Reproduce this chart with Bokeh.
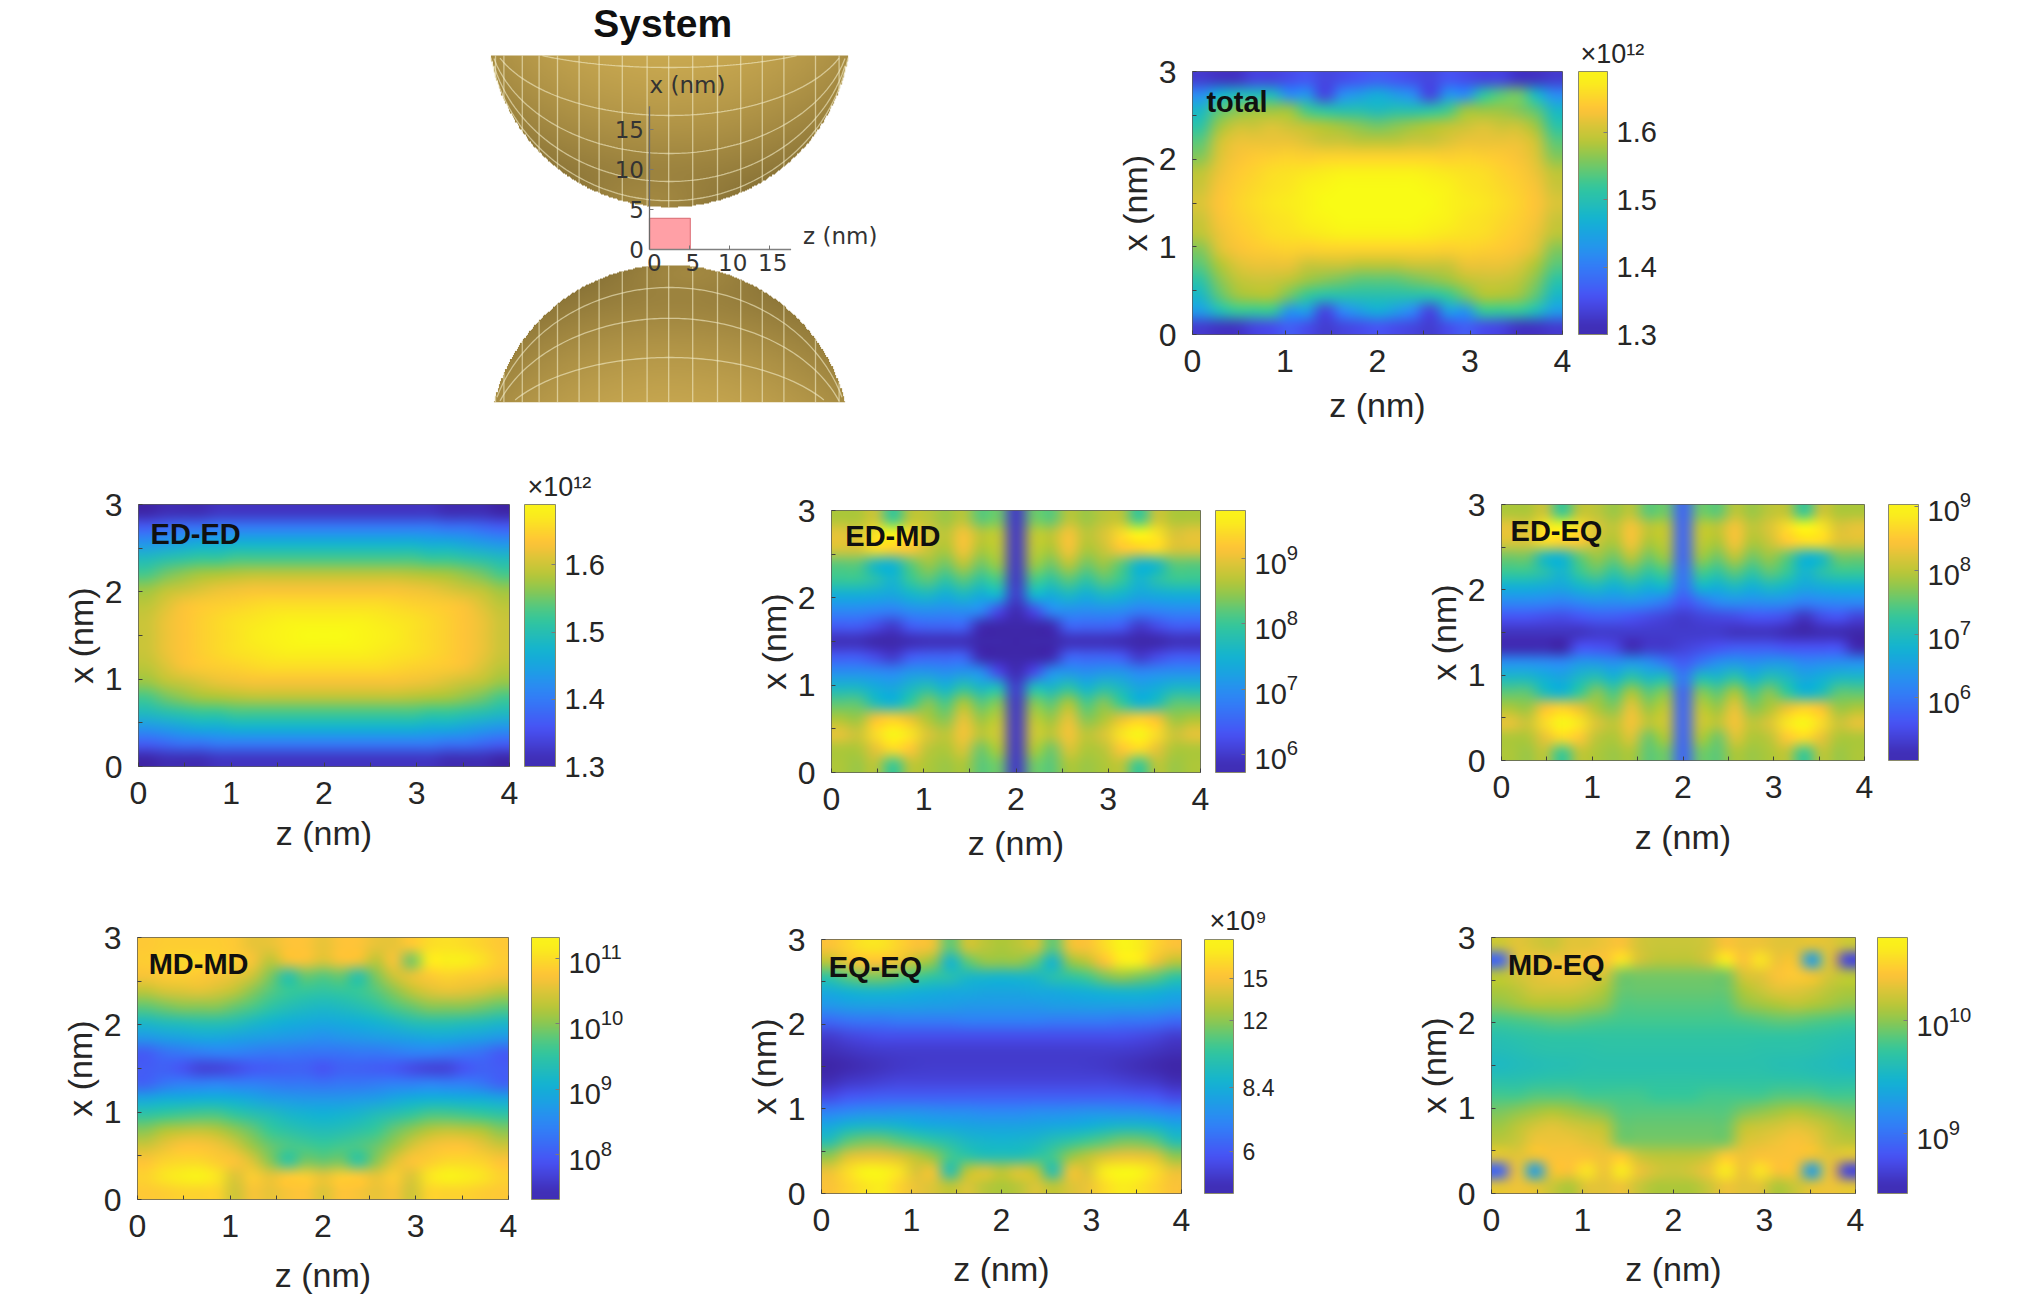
import numpy as np
from bokeh.document import Document
from bokeh.embed import file_html
from bokeh.resources import INLINE
from bokeh.plotting import figure
from bokeh.layouts import column, row
from bokeh.core.properties import value
from bokeh.models import (ColorBar, CustomJS, FixedTicker, Label, LinearColorMapper, LogColorMapper,
                          LogTickFormatter, Title)

# ---------- heat-map values (rows: x from 0 to 3, columns: z from 0 to 4) ----------
total_e12 = [
[1.33,1.32,1.32,1.34,1.35,1.37,1.35,1.33,1.34,1.35,1.36,1.35,1.34,1.33,1.35,1.37,1.35,1.34,1.32,1.32,1.33],
[1.44,1.49,1.52,1.52,1.52,1.43,1.44,1.34,1.41,1.44,1.46,1.44,1.41,1.34,1.44,1.43,1.52,1.52,1.52,1.49,1.44],
[1.48,1.54,1.57,1.58,1.58,1.55,1.52,1.50,1.50,1.50,1.50,1.50,1.50,1.50,1.52,1.55,1.58,1.58,1.57,1.54,1.48],
[1.51,1.56,1.59,1.60,1.60,1.59,1.57,1.56,1.55,1.54,1.54,1.54,1.55,1.56,1.57,1.59,1.60,1.60,1.59,1.56,1.51],
[1.54,1.58,1.61,1.62,1.62,1.62,1.60,1.60,1.60,1.59,1.59,1.59,1.60,1.60,1.60,1.62,1.62,1.62,1.61,1.58,1.54],
[1.56,1.61,1.63,1.64,1.645,1.65,1.645,1.65,1.65,1.65,1.65,1.65,1.65,1.65,1.645,1.65,1.645,1.64,1.63,1.61,1.56],
[1.59,1.62,1.64,1.65,1.66,1.665,1.67,1.675,1.68,1.68,1.68,1.68,1.68,1.675,1.67,1.665,1.66,1.65,1.64,1.62,1.59],
[1.60,1.63,1.645,1.655,1.665,1.67,1.68,1.685,1.69,1.69,1.69,1.69,1.69,1.685,1.68,1.67,1.665,1.655,1.645,1.63,1.60],
[1.61,1.635,1.65,1.66,1.67,1.675,1.68,1.69,1.69,1.69,1.69,1.69,1.69,1.69,1.68,1.675,1.67,1.66,1.65,1.635,1.61],
[1.60,1.63,1.645,1.655,1.665,1.67,1.68,1.685,1.69,1.69,1.69,1.69,1.69,1.685,1.68,1.67,1.665,1.655,1.645,1.63,1.60],
[1.59,1.62,1.64,1.65,1.66,1.665,1.67,1.675,1.68,1.68,1.68,1.68,1.68,1.675,1.67,1.665,1.66,1.65,1.64,1.62,1.59],
[1.56,1.61,1.63,1.64,1.645,1.65,1.645,1.65,1.65,1.65,1.65,1.65,1.65,1.65,1.645,1.65,1.645,1.64,1.63,1.61,1.56],
[1.54,1.60,1.62,1.62,1.62,1.62,1.61,1.60,1.60,1.59,1.59,1.59,1.60,1.60,1.61,1.62,1.62,1.62,1.62,1.60,1.54],
[1.51,1.57,1.60,1.60,1.61,1.60,1.59,1.58,1.57,1.56,1.55,1.56,1.57,1.58,1.59,1.60,1.61,1.60,1.60,1.57,1.51],
[1.48,1.54,1.56,1.57,1.57,1.57,1.53,1.51,1.50,1.50,1.49,1.50,1.50,1.51,1.53,1.57,1.57,1.57,1.56,1.54,1.48],
[1.42,1.47,1.49,1.49,1.49,1.42,1.43,1.34,1.42,1.44,1.46,1.44,1.42,1.34,1.43,1.42,1.51,1.54,1.55,1.48,1.42],
[1.33,1.32,1.32,1.34,1.34,1.35,1.36,1.34,1.35,1.36,1.37,1.36,1.35,1.34,1.36,1.35,1.34,1.34,1.32,1.32,1.33],
]
ed_ed_e12 = [
[1.30,1.31,1.31,1.31,1.32,1.32,1.32,1.32,1.32,1.32,1.32,1.32,1.32,1.32,1.32,1.32,1.32,1.31,1.31,1.31,1.30],
[1.37,1.38,1.39,1.39,1.40,1.40,1.40,1.40,1.40,1.40,1.40,1.40,1.40,1.40,1.40,1.40,1.40,1.39,1.39,1.38,1.37],
[1.43,1.44,1.45,1.46,1.46,1.47,1.47,1.47,1.47,1.47,1.47,1.47,1.47,1.47,1.47,1.47,1.46,1.46,1.45,1.44,1.43],
[1.49,1.50,1.51,1.52,1.52,1.53,1.53,1.53,1.53,1.53,1.53,1.53,1.53,1.53,1.53,1.53,1.52,1.52,1.51,1.50,1.49],
[1.53,1.55,1.565,1.575,1.58,1.585,1.59,1.59,1.59,1.59,1.59,1.59,1.59,1.59,1.59,1.585,1.58,1.575,1.565,1.55,1.53],
[1.57,1.59,1.60,1.61,1.62,1.625,1.63,1.63,1.63,1.63,1.63,1.63,1.63,1.63,1.63,1.625,1.62,1.61,1.60,1.59,1.57],
[1.59,1.61,1.63,1.64,1.645,1.65,1.655,1.66,1.66,1.66,1.66,1.66,1.66,1.66,1.655,1.65,1.645,1.64,1.63,1.61,1.59],
[1.60,1.62,1.635,1.645,1.655,1.665,1.67,1.675,1.68,1.68,1.68,1.68,1.68,1.675,1.67,1.665,1.655,1.645,1.635,1.62,1.60],
[1.60,1.62,1.635,1.645,1.655,1.665,1.675,1.68,1.685,1.69,1.69,1.69,1.685,1.68,1.675,1.665,1.655,1.645,1.635,1.62,1.60],
[1.60,1.62,1.635,1.645,1.655,1.665,1.67,1.675,1.68,1.68,1.68,1.68,1.68,1.675,1.67,1.665,1.655,1.645,1.635,1.62,1.60],
[1.59,1.61,1.63,1.64,1.645,1.65,1.655,1.66,1.66,1.66,1.66,1.66,1.66,1.66,1.655,1.65,1.645,1.64,1.63,1.61,1.59],
[1.57,1.59,1.60,1.61,1.62,1.625,1.63,1.63,1.63,1.63,1.63,1.63,1.63,1.63,1.63,1.625,1.62,1.61,1.60,1.59,1.57],
[1.53,1.55,1.565,1.575,1.58,1.585,1.59,1.59,1.59,1.59,1.59,1.59,1.59,1.59,1.59,1.585,1.58,1.575,1.565,1.55,1.53],
[1.49,1.50,1.51,1.52,1.52,1.53,1.53,1.53,1.53,1.53,1.53,1.53,1.53,1.53,1.53,1.53,1.52,1.52,1.51,1.50,1.49],
[1.43,1.44,1.45,1.46,1.46,1.47,1.47,1.47,1.47,1.47,1.47,1.47,1.47,1.47,1.47,1.47,1.46,1.46,1.45,1.44,1.43],
[1.37,1.38,1.39,1.39,1.40,1.40,1.40,1.40,1.40,1.40,1.40,1.40,1.40,1.40,1.40,1.40,1.40,1.39,1.39,1.38,1.37],
[1.30,1.31,1.31,1.31,1.32,1.32,1.32,1.32,1.32,1.32,1.32,1.32,1.32,1.32,1.32,1.32,1.32,1.31,1.31,1.31,1.30],
]
ed_md_log = [
[8.6,8.5,8.7,8.0,8.7,8.6,8.5,8.6,8.2,8.3,5.95,8.3,8.2,8.6,8.5,8.6,8.7,8.0,8.7,8.5,8.6],
[8.6,8.6,9.0,9.4,9.2,8.7,8.6,8.9,8.3,8.6,5.95,8.6,8.3,8.9,8.6,8.7,9.2,9.4,9.0,8.6,8.6],
[9.0,8.8,9.4,9.7,9.5,8.9,8.7,9.1,8.7,8.8,5.95,8.8,8.7,9.1,8.7,8.9,9.5,9.7,9.4,8.8,9.0],
[8.6,8.5,9.1,9.3,9.0,8.6,8.4,9.0,8.5,8.7,5.95,8.7,8.5,9.0,8.4,8.6,9.0,9.3,9.1,8.5,8.6],
[8.2,8.2,7.7,7.5,8.0,8.4,8.1,8.6,8.2,8.4,5.95,8.4,8.2,8.6,8.1,8.4,8.0,7.5,7.7,8.2,8.2],
[7.6,7.6,7.4,7.3,7.6,7.8,7.5,7.9,7.6,7.7,6.0,7.7,7.6,7.9,7.5,7.8,7.6,7.3,7.4,7.6,7.6],
[7.0,7.0,6.95,6.9,7.1,7.1,7.0,7.1,7.0,6.2,5.8,6.2,7.0,7.1,7.0,7.1,7.1,6.9,6.95,7.0,7.0],
[6.4,6.4,6.2,6.0,6.4,6.5,6.5,6.5,5.8,5.75,5.75,5.75,5.8,6.5,6.5,6.5,6.4,6.0,6.2,6.4,6.4],
[5.85,5.85,5.75,5.75,5.8,5.85,5.85,5.85,5.75,5.75,5.72,5.75,5.75,5.85,5.85,5.85,5.8,5.75,5.75,5.85,5.85],
[6.4,6.4,6.2,6.0,6.4,6.5,6.5,6.5,5.8,5.75,5.75,5.75,5.8,6.5,6.5,6.5,6.4,6.0,6.2,6.4,6.4],
[6.9,6.9,6.85,6.8,6.95,7.0,6.95,7.0,6.9,6.2,5.8,6.2,6.9,7.0,6.95,7.0,6.95,6.8,6.85,6.9,6.9],
[7.4,7.4,7.35,7.3,7.5,7.6,7.4,7.6,7.4,7.5,6.0,7.5,7.4,7.6,7.4,7.6,7.5,7.3,7.35,7.4,7.4],
[8.0,8.0,7.8,7.5,8.0,8.2,7.9,8.2,7.9,8.1,5.95,8.1,7.9,8.2,7.9,8.2,8.0,7.5,7.8,8.0,8.0],
[8.2,8.2,7.6,7.5,8.2,8.5,8.3,8.7,8.3,8.5,5.95,8.5,8.3,8.7,8.3,8.5,8.2,7.5,7.6,8.2,8.2],
[8.9,8.9,9.4,9.3,9.2,8.8,8.6,9.1,8.6,8.7,5.95,8.7,8.6,9.1,8.6,8.8,9.2,9.3,9.4,8.9,8.9],
[9.0,8.9,9.5,9.7,9.4,8.9,8.7,9.1,8.7,8.7,5.95,8.7,8.7,9.1,8.7,8.9,9.4,9.7,9.5,8.9,9.0],
[8.6,8.6,8.8,8.0,8.7,8.7,8.5,8.7,8.2,8.3,5.95,8.3,8.2,8.7,8.5,8.7,8.7,8.0,8.8,8.6,8.6],
]
ed_eq_log = [
[7.9,7.8,8.0,7.3,8.0,7.9,7.8,7.9,7.5,7.6,5.8,7.6,7.5,7.9,7.8,7.9,8.0,7.3,8.0,7.8,7.9],
[7.9,7.9,8.3,8.7,8.5,8.0,7.9,8.2,7.6,7.9,5.8,7.9,7.6,8.2,7.9,8.0,8.5,8.7,8.3,7.9,7.9],
[8.3,8.1,8.7,9.0,8.8,8.2,8.0,8.4,8.0,8.1,5.8,8.1,8.0,8.4,8.0,8.2,8.8,9.0,8.7,8.1,8.3],
[7.9,7.8,8.4,8.6,8.3,7.9,7.7,8.3,7.8,8.0,5.8,8.0,7.8,8.3,7.7,7.9,8.3,8.6,8.4,7.8,7.9],
[7.5,7.5,7.0,6.8,7.3,7.7,7.4,7.9,7.5,7.7,5.8,7.7,7.5,7.9,7.4,7.7,7.3,6.8,7.0,7.5,7.5],
[6.9,6.9,6.7,6.6,6.9,7.1,6.8,7.2,6.9,7.0,6.0,7.0,6.9,7.2,6.8,7.1,6.9,6.6,6.7,6.9,6.9],
[6.3,6.3,6.25,6.2,6.4,6.4,6.3,6.4,6.3,6.0,5.7,6.0,6.3,6.4,6.3,6.4,6.4,6.2,6.25,6.3,6.3],
[5.1,5.1,5.1,5.0,5.6,5.6,5.5,5.1,5.3,5.3,5.4,5.5,5.6,5.7,5.7,5.7,5.6,5.6,5.6,5.6,5.1],
[5.2,5.2,5.2,5.2,5.2,5.3,5.3,5.3,5.3,5.3,5.3,5.3,5.3,5.2,5.2,5.2,5.1,5.05,5.1,5.1,5.05],
[5.6,5.6,5.55,5.5,5.6,5.7,5.7,5.6,5.5,5.4,5.3,5.4,5.45,5.5,5.6,5.6,5.5,5.2,5.5,5.6,5.4],
[6.2,6.2,6.15,6.1,6.2,6.3,6.25,6.3,6.2,6.0,5.6,5.9,6.2,6.3,6.25,6.3,6.25,6.1,6.15,6.2,6.2],
[6.7,6.7,6.65,6.6,6.8,6.9,6.7,6.9,6.7,6.8,5.9,6.8,6.7,6.9,6.7,6.9,6.8,6.6,6.65,6.7,6.7],
[7.3,7.3,7.1,6.8,7.3,7.5,7.2,7.5,7.2,7.4,5.9,7.4,7.2,7.5,7.2,7.5,7.3,6.8,7.1,7.3,7.3],
[7.6,7.6,6.9,6.8,7.5,7.8,7.6,8.0,7.6,7.8,5.8,7.8,7.6,8.0,7.6,7.8,7.5,6.8,6.9,7.6,7.6],
[8.2,8.2,8.7,8.6,8.5,8.1,7.9,8.4,7.9,8.0,5.8,8.0,7.9,8.4,7.9,8.1,8.5,8.7,8.7,8.2,8.2],
[8.3,8.2,8.8,9.0,8.7,8.2,8.0,8.4,8.0,8.0,5.8,8.0,8.0,8.4,8.0,8.2,8.7,9.0,8.8,8.2,8.3],
[7.9,7.9,8.1,7.3,8.0,8.0,7.8,8.0,7.5,7.6,5.8,7.6,7.5,8.0,7.8,8.0,8.0,7.3,8.1,7.9,7.9],
]
md_md_log = [
[10.8,10.85,10.9,10.9,10.9,10.4,10.7,10.6,10.7,10.75,10.5,10.75,10.7,10.6,10.7,10.4,10.9,10.9,10.9,10.85,10.8],
[10.9,11.1,11.2,11.25,11.1,10.5,10.85,10.6,10.8,10.85,10.6,10.85,10.8,10.6,10.85,10.5,11.1,11.25,11.2,11.1,10.9],
[10.75,10.9,10.95,10.95,10.85,10.75,10.5,10.0,9.5,9.9,9.85,9.9,9.5,10.0,10.5,10.75,10.85,10.95,10.95,10.9,10.75],
[10.4,10.6,10.75,10.75,10.65,10.45,10.1,9.85,9.7,9.65,9.6,9.65,9.7,9.85,10.1,10.45,10.65,10.75,10.75,10.6,10.4],
[10.0,10.2,10.3,10.35,10.25,10.05,9.85,9.6,9.45,9.35,9.3,9.35,9.45,9.6,9.85,10.05,10.25,10.35,10.3,10.2,10.0],
[9.5,9.6,9.65,9.7,9.7,9.55,9.4,9.3,9.15,9.1,9.05,9.1,9.15,9.3,9.4,9.55,9.7,9.7,9.65,9.6,9.5],
[8.9,9.0,9.0,9.05,9.05,9.0,8.9,8.8,8.75,8.7,8.7,8.7,8.75,8.8,8.9,9.0,9.05,9.05,9.0,9.0,8.9],
[8.1,8.3,8.4,8.4,8.45,8.4,8.4,8.35,8.3,8.3,8.25,8.3,8.3,8.35,8.4,8.4,8.45,8.4,8.4,8.3,8.1],
[8.0,8.05,7.9,7.7,7.7,7.8,7.95,8.0,8.05,8.05,7.9,8.05,8.05,8.0,7.95,7.8,7.7,7.7,7.9,8.05,8.0],
[8.0,8.2,8.3,8.35,8.4,8.4,8.35,8.3,8.3,8.25,8.25,8.25,8.3,8.3,8.35,8.4,8.4,8.35,8.3,8.2,8.0],
[8.7,8.8,8.85,8.9,8.9,8.85,8.8,8.75,8.7,8.65,8.6,8.65,8.7,8.75,8.8,8.85,8.9,8.9,8.85,8.8,8.7],
[9.2,9.3,9.35,9.4,9.4,9.35,9.2,9.1,9.0,8.95,8.9,8.95,9.0,9.1,9.2,9.35,9.4,9.4,9.35,9.3,9.2],
[9.8,9.9,10.0,10.0,10.0,9.85,9.7,9.5,9.35,9.25,9.2,9.25,9.35,9.5,9.7,9.85,10.0,10.0,10.0,9.9,9.8],
[10.3,10.45,10.5,10.55,10.45,10.3,10.0,9.75,9.6,9.55,9.5,9.55,9.6,9.75,10.0,10.3,10.5,10.6,10.55,10.45,10.3],
[10.7,10.8,10.85,10.8,10.7,10.6,10.4,9.95,9.4,9.85,9.75,9.85,9.4,9.95,10.4,10.6,10.8,10.9,10.85,10.8,10.7],
[10.85,10.9,10.95,10.95,10.9,10.85,10.7,10.3,10.65,10.7,10.5,10.7,10.65,10.3,10.7,9.9,11.15,11.2,11.2,11.05,10.85],
[10.8,10.85,10.85,10.85,10.85,10.8,10.6,10.6,10.75,10.75,10.6,10.75,10.75,10.6,10.6,10.8,11.0,11.05,11.0,10.9,10.8],
]
eq_eq_e9 = [
[15,16,17,17.5,16,14.5,14,13,14,13,12.5,13,14,13,14,14.5,16.5,17.5,17,16,15],
[14.5,16.5,18,18,17,14,14.5,9.5,13,14,13,14,13,9.5,14.5,14,17.5,18.3,18,16.5,14.5],
[12,14,14.5,14.5,14,13,12,10.5,10,9.5,9.5,9.5,10,10.5,12,13,14,14.5,14.5,14,12],
[9.5,11,11.5,11.5,11,10.5,10,9.5,9,8.8,8.7,8.8,9,9.5,10,10.5,11,11.5,11.5,11,9.5],
[8.2,8.8,9,9,8.8,8.5,8.3,8.2,8.1,8.0,8.0,8.0,8.1,8.2,8.3,8.5,8.8,9,9,8.8,8.2],
[6.9,7.1,7.3,7.3,7.4,7.4,7.3,7.2,7.2,7.1,7.1,7.1,7.2,7.2,7.3,7.4,7.4,7.3,7.3,7.1,6.9],
[5.6,5.9,6.0,6.1,6.1,6.1,6.1,6.1,6.1,6.1,6.1,6.1,6.1,6.1,6.1,6.1,6.1,6.1,6.0,5.9,5.6],
[5.0,5.2,5.3,5.4,5.5,5.5,5.5,5.5,5.5,5.5,5.5,5.5,5.5,5.5,5.5,5.5,5.5,5.4,5.3,5.2,5.0],
[4.8,4.9,5.0,5.1,5.2,5.25,5.3,5.3,5.3,5.3,5.3,5.3,5.3,5.3,5.3,5.25,5.2,5.1,5.0,4.9,4.8],
[5.0,5.1,5.2,5.25,5.3,5.3,5.3,5.3,5.3,5.3,5.3,5.3,5.3,5.3,5.3,5.3,5.3,5.25,5.2,5.1,5.0],
[5.3,5.5,5.6,5.7,5.7,5.7,5.7,5.7,5.7,5.7,5.7,5.7,5.7,5.7,5.7,5.7,5.7,5.7,5.6,5.5,5.3],
[6.3,6.5,6.6,6.6,6.7,6.7,6.7,6.7,6.8,6.8,6.8,6.8,6.8,6.7,6.7,6.7,6.7,6.6,6.6,6.5,6.3],
[7.5,7.7,7.8,7.8,7.8,7.8,7.7,7.7,7.6,7.6,7.6,7.6,7.6,7.7,7.7,7.8,7.8,7.8,7.8,7.7,7.5],
[8.3,8.6,8.8,8.8,8.7,8.5,8.4,8.2,8.2,8.1,8.1,8.1,8.2,8.2,8.4,8.5,8.7,8.8,8.8,8.6,8.3],
[10,11,11.5,11.5,11,10.5,10,9.6,9,8.9,8.8,8.9,9,9.6,10,10.5,11.5,12,11.5,11,10],
[13,14.5,15,15,14.5,13,12,8.7,11,12,12,12,11,8.7,12,13,15,17.5,17.5,14.5,13],
[15,16,17,17,16,15,14.5,11,13.5,13,12.5,13,13.5,11,14.5,15,16.5,18,17.5,16,15],
]
md_eq_log = [
[10.3,10.35,10.3,10.2,10.1,10.3,10.3,10.35,10.2,10.1,10.1,10.1,10.2,10.35,10.3,10.3,10.1,10.2,10.3,10.35,10.3],
[8.9,10.35,9.3,10.35,10.4,10.6,10.35,10.65,10.35,10.25,10.2,10.25,10.35,10.65,10.35,10.6,10.4,10.35,9.3,10.35,8.7],
[10.3,10.3,10.35,10.4,10.4,10.4,10.35,10.45,10.2,10.15,10.15,10.15,10.2,10.45,10.35,10.4,10.4,10.4,10.35,10.3,10.3],
[10.15,10.2,10.35,10.35,10.35,10.3,10.25,9.95,9.95,9.95,9.95,9.95,9.95,9.95,10.25,10.3,10.35,10.4,10.35,10.2,10.15],
[10.05,10.15,10.25,10.3,10.25,10.2,10.15,9.9,9.9,9.9,9.9,9.9,9.9,9.9,10.15,10.2,10.25,10.3,10.25,10.15,10.05],
[9.95,10.0,10.05,10.1,10.05,10.0,9.95,9.85,9.85,9.85,9.85,9.85,9.85,9.85,9.95,10.0,10.05,10.1,10.05,10.0,9.95],
[9.8,9.8,9.85,9.85,9.85,9.8,9.8,9.8,9.8,9.75,9.75,9.75,9.8,9.8,9.8,9.8,9.85,9.85,9.85,9.8,9.8],
[9.65,9.65,9.68,9.7,9.7,9.7,9.7,9.7,9.7,9.7,9.7,9.7,9.7,9.7,9.7,9.7,9.7,9.7,9.68,9.65,9.65],
[9.55,9.58,9.6,9.62,9.63,9.65,9.65,9.65,9.65,9.65,9.65,9.65,9.65,9.65,9.65,9.65,9.63,9.62,9.6,9.58,9.55],
[9.6,9.62,9.65,9.66,9.66,9.66,9.68,9.68,9.68,9.68,9.68,9.68,9.68,9.68,9.68,9.66,9.66,9.66,9.65,9.62,9.6],
[9.65,9.68,9.7,9.72,9.72,9.72,9.72,9.72,9.72,9.72,9.72,9.72,9.72,9.72,9.72,9.72,9.72,9.72,9.7,9.68,9.65],
[9.8,9.82,9.85,9.88,9.88,9.85,9.82,9.8,9.8,9.8,9.8,9.8,9.8,9.8,9.82,9.85,9.88,9.88,9.85,9.82,9.8],
[10.0,10.05,10.1,10.1,10.1,10.05,10.0,9.85,9.85,9.85,9.85,9.85,9.85,9.85,10.0,10.05,10.1,10.15,10.1,10.05,10.0],
[10.1,10.15,10.25,10.25,10.25,10.2,10.1,9.9,9.9,9.9,9.9,9.9,9.9,9.9,10.1,10.2,10.3,10.3,10.25,10.15,10.1],
[10.15,10.25,10.3,10.35,10.35,10.3,10.25,9.95,9.95,9.95,9.95,9.95,9.95,9.95,10.25,10.3,10.4,10.45,10.35,10.25,10.15],
[8.9,10.3,10.35,10.35,10.35,10.4,10.4,10.6,10.25,10.15,10.15,10.15,10.25,10.65,10.4,10.6,10.35,10.35,9.3,10.3,8.7],
[10.2,10.3,10.25,10.2,10.3,10.3,10.35,10.4,10.25,10.2,10.2,10.2,10.25,10.4,10.35,10.35,10.3,10.3,10.3,10.3,10.2],
]

# ---------- colour scale anchors (parula-like) ----------
parula_anchors = [(0.2422,0.1504,0.6603),(0.2810,0.3228,0.9579),(0.1786,0.5289,0.9682),(0.0689,0.6948,0.8394),
                  (0.2161,0.7843,0.5923),(0.6720,0.7793,0.2227),(0.9970,0.7659,0.2199),(0.9769,0.9839,0.0805)]
_a = np.array(parula_anchors)
_t = np.linspace(0, 1, len(parula_anchors))
parula = ["#%02x%02x%02x" % tuple(int(round(255*np.interp(v, _t, _a[:, c]))) for c in range(3))
          for v in np.linspace(0, 1, 256)]

FONT = "Liberation Sans"
INK = "#262626"
z_ticks = [0, 0.5, 1, 1.5, 2, 2.5, 3, 3.5, 4]
x_ticks = [0, 0.5, 1, 1.5, 2, 2.5, 3]
MB_L, MB_R, MB_T, MB_B = 100, 150, 50, 95


def panel(name, values, low, high, scale, cb_ticks, cb_labels, frame, cb_left, cb_right,
          label_x, label_top, title=None, title_dx=18, title_dy=6, cb_font="29px", xlabel_extra=0):
    L, R, T, B = frame
    p = figure(width=R-L+MB_L+MB_R, height=B-T+MB_T+MB_B+xlabel_extra, x_range=(0, 4), y_range=(0, 3),
               min_border_left=MB_L, min_border_right=MB_R, min_border_top=MB_T, min_border_bottom=MB_B+xlabel_extra,
               toolbar_location=None, output_backend="svg", tools="", frame_align=False)
    p.grid.visible = False
    p.outline_line_color = "#5a5a5a"
    p.outline_line_width = 1
    arr = np.array(values, dtype=float)
    if scale == "log":
        mapper = LogColorMapper(palette=parula, low=low, high=high)
    else:
        mapper = LinearColorMapper(palette=parula, low=low, high=high)
    p.image(image=[arr], x=0, y=0, dw=4, dh=3, color_mapper=mapper)
    for ax, ticks, lab in ((p.xaxis[0], z_ticks, "z (nm)"), (p.yaxis[0], x_ticks, "x (nm)")):
        ax.ticker = FixedTicker(ticks=ticks)
        ax.major_label_overrides = {t: (str(int(t)) if t == int(t) else "") for t in ticks}
        ax.axis_label = lab
        ax.axis_label_text_font = FONT
        ax.axis_label_text_font_style = "normal"
        ax.axis_label_text_font_size = "34px"
        ax.axis_label_text_color = INK
        ax.major_label_text_font = FONT
        ax.major_label_text_font_size = "32px"
        ax.major_label_text_color = INK
        ax.axis_line_color = None
        ax.major_tick_line_color = "#404040"
        ax.major_tick_in = 4
        ax.major_tick_out = 0
        ax.minor_tick_line_color = None
    p.xaxis[0].major_label_standoff = 15
    p.xaxis[0].axis_label_standoff = 11 + xlabel_extra
    p.yaxis[0].major_label_standoff = 16
    p.yaxis[0].axis_label_standoff = 2
    p.yaxis[0].major_label_orientation = "horizontal"
    if scale == "log" and cb_labels is None:
        cb_fmt = {"formatter": LogTickFormatter()}
    else:
        cb_fmt = {"major_label_overrides": dict(zip(cb_ticks, cb_labels))}
    cb = ColorBar(color_mapper=mapper, ticker=FixedTicker(ticks=cb_ticks), width=cb_right-cb_left, height=B-T,
                  location=(cb_left-L, 0), margin=0, padding=0, background_fill_color=None,
                  major_label_text_font=FONT, major_label_text_font_size=cb_font,
                  major_label_text_color=INK, label_standoff=9,
                  major_tick_line_color="#7a7a7a", major_tick_in=4, major_tick_out=0,
                  minor_tick_line_color=None, bar_line_color="#8a8a6a", **cb_fmt)
    p.add_layout(cb)
    p.add_layout(Label(x=label_x, y=3, y_offset=-label_top, text=name, text_font=FONT, text_font_style="bold",
                       text_font_size="29px", text_color="#101010", text_baseline="middle"))
    if title:
        p.add_layout(Title(text=title, align="left", offset=R-L+title_dx, standoff=title_dy, text_font=FONT,
                           text_font_style="normal", text_font_size="27px", text_color=INK), "above")
    return p


# ---------- schematic values (nm) ----------
gap_top_apex = 5.25
gap_bottom_apex = -2.0
sphere_radius = 22.7
sphere_centre_z = 2.5
top_cut = 24.25
bottom_cut = -19.1
top_parallels = [22.75, 16.75, 12.0, 8.5, 6.1]
bottom_parallels = [-4.75, -8.6, -13.5]
meridians = [-19.25, -18.2, -15.9, -13.8, -11.5, -8.8, -6.3, -3.4, -0.3, 2.4, 5.4, 8.5, 11.4, 14.1, 16.8, 20.75, 23.7]
sys_ticks = [5, 10, 15]
region_z = [0, 5.1]
region_x = [0, 3.9]


def system_panel():
    x0, y0, w, h = 488, 8, 410, 410
    xr = (-21.125, 30.125)
    yr = (-20.125, 31.125)
    p = figure(width=w, height=h, x_range=xr, y_range=yr, min_border=0, toolbar_location=None,
               output_backend="svg", tools="", x_axis_location=None, y_axis_location=None, frame_align=False)
    p.grid.visible = False
    p.outline_line_color = None
    for apex, cut, sign in ((gap_top_apex, top_cut, 1), (gap_bottom_apex, bottom_cut, -1)):
        cy = apex + sign*sphere_radius
        zs = np.linspace(sphere_centre_z-sphere_radius-1, sphere_centre_z+sphere_radius+1, 300)
        ys = np.linspace(min(apex, cut)-0.5, max(apex, cut), 260)
        Z, Y = np.meshgrid(zs, ys)
        dz = (Z-sphere_centre_z)/sphere_radius
        dy = (Y-cy)/sphere_radius
        r2 = dz**2+dy**2
        inside = (r2 <= 1) & ((Y <= cut) if sign > 0 else (Y >= cut))
        depth = np.clip(np.abs(dy), 0, 1)
        light = 1.0 - 0.36*depth**1.6 - 0.16*np.abs(dz)**2
        light += 0.14*np.exp(-((dz+0.15*sign)**2/0.18 + (1-depth)**2/0.02))
        img = np.zeros(Z.shape, dtype=np.uint32)
        view = img.view(dtype=np.uint8).reshape(Z.shape+(4,))
        view[..., 0] = np.clip(205*light, 0, 255)
        view[..., 1] = np.clip(172*light, 0, 255)
        view[..., 2] = np.clip(82*light, 0, 255)
        view[..., 3] = np.where(inside, 255, 0)
        p.image_rgba(image=[img], x=zs[0], y=ys[0], dw=zs[-1]-zs[0], dh=ys[-1]-ys[0])
        for m in meridians:
            half = np.sqrt(max(sphere_radius**2-(m-sphere_centre_z)**2, 0))
            end = cy - sign*half
            p.line([m, m], [end, cut], line_color="#f4ecc8", line_width=1.3, line_alpha=0.6)
        for par in (top_parallels if sign > 0 else bottom_parallels):
            b = abs(cy-par)
            u = np.linspace(-1, 1, 121)
            yy = cy - sign*b*np.sqrt(1-u**2)
            zz = sphere_centre_z + sphere_radius*u
            keep = (yy <= cut) if sign > 0 else (yy >= cut)
            p.line(zz[keep], yy[keep], line_color="#f4ecc8", line_width=1.3, line_alpha=0.6)
    p.quad(left=region_z[0], right=region_z[1], bottom=region_x[0], top=region_x[1],
           fill_color="#ffa0a6", line_color="#e07a80", line_width=1.2)
    p.line([0, 0], [0, 17.9], line_color="#6a6a6a", line_width=1.3)
    p.line([0, 17.7], [0, 0], line_color="#808080", line_width=1.3)
    tick_font = dict(text_font=value("DejaVu Sans"), text_font_size="23px", text_color="#333333")
    p.segment(x0=[0]*3, x1=[0.5]*3, y0=sys_ticks, y1=sys_ticks, line_color="#777777")
    p.segment(x0=sys_ticks, x1=sys_ticks, y0=[0]*3, y1=[0.5]*3, line_color="#777777")
    p.text(x=[-0.7]*4, y=[0]+sys_ticks, text=["0"]+[str(t) for t in sys_ticks], text_align="right",
           text_baseline="middle", **tick_font)
    p.text(x=[0.6]+[t+0.4 for t in sys_ticks], y=[-0.6]*4, text=["0"]+[str(t) for t in sys_ticks], text_align="center",
           text_baseline="top", **tick_font)
    p.text(x=[0], y=[20.6], text=["x (nm)"], text_baseline="middle", **tick_font)
    p.text(x=[19.2], y=[1.7], text=["z (nm)"], text_baseline="middle", **tick_font)
    p.text(x=[1.65], y=[28.3], text=["System"], text_align="center", text_baseline="middle", text_font=value(FONT),
           text_font_style="bold", text_font_size="39px", text_color="#101010")
    return p, (x0, y0, w, h)


panels_row1 = [dict(name="total", values=total_e12, low=1.3, high=1.69, scale="lin",
                    cb_ticks=[1.3, 1.4, 1.5, 1.6], cb_labels=["1.3", "1.4", "1.5", "1.6"],
                    frame=(1200, 1570, 79, 342), cb_left=1586, cb_right=1615, label_x=0.15, label_top=30,
                    title="×10¹²")]
panels_row2 = [dict(name="ED-ED", values=ed_ed_e12, low=1.3, high=1.69, scale="lin",
                    cb_ticks=[1.3, 1.4, 1.5, 1.6], cb_labels=["1.3", "1.4", "1.5", "1.6"],
                    frame=(146, 517, 512, 774), cb_left=532, cb_right=563, label_x=0.13, label_top=29,
                    title="×10¹²", xlabel_extra=-4),
               dict(name="ED-MD", values=(10**np.array(ed_md_log)).tolist(), low=10**5.72, high=10**9.74, scale="log",
                    cb_ticks=[1e6, 1e7, 1e8, 1e9], cb_labels=None,
                    frame=(839, 1208, 518, 780), cb_left=1223, cb_right=1253, label_x=0.15, label_top=25),
               dict(name="ED-EQ", values=(10**np.array(ed_eq_log)).tolist(), low=10**5.02, high=10**9.03, scale="log",
                    cb_ticks=[1e6, 1e7, 1e8, 1e9], cb_labels=None,
                    frame=(1509, 1872, 512, 768), cb_left=1896, cb_right=1926, label_x=0.1, label_top=26,
                    xlabel_extra=6)]
panels_row3 = [dict(name="MD-MD", values=(10**np.array(md_md_log)).tolist(), low=10**7.32, high=10**11.32, scale="log",
                    cb_ticks=[1e8, 1e9, 1e10, 1e11], cb_labels=None,
                    frame=(145, 516, 945, 1207), cb_left=539, cb_right=567, label_x=0.12, label_top=26,
                    xlabel_extra=5),
               dict(name="EQ-EQ", values=(np.array(eq_eq_e9)*1e9).tolist(), low=4.8e9, high=18.4e9, scale="log",
                    cb_ticks=[6e9, 8.4e9, 12e9, 15e9], cb_labels=["6", "8.4", "12", "15"], cb_font="23px",
                    frame=(829, 1189, 947, 1201), cb_left=1212, cb_right=1241, label_x=0.08, label_top=27,
                    title="×10⁹", title_dx=28, title_dy=7, xlabel_extra=5),
               dict(name="MD-EQ", values=(10**np.array(md_eq_log)).tolist(), low=10**8.47, high=10**10.74, scale="log",
                    cb_ticks=[1e9, 1e10], cb_labels=None,
                    frame=(1499, 1863, 945, 1201), cb_left=1885, cb_right=1915, label_x=0.18, label_top=27,
                    xlabel_extra=5)]


def box_of(spec):
    L, R, T, B = spec["frame"]
    return (L-MB_L, T-MB_T, R-L+MB_L+MB_R, B-T+MB_T+MB_B+spec.get("xlabel_extra", 0))


sys_fig, sys_box = system_panel()
rows_def = [[(sys_fig, sys_box)] + [(panel(**s), box_of(s)) for s in panels_row1],
            [(panel(**s), box_of(s)) for s in panels_row2],
            [(panel(**s), box_of(s)) for s in panels_row3]]

children = []
row_origin = 8
for items in rows_def:
    cursor = 8
    bottom = row_origin
    figs = []
    for fig, (x0, y0, w, h) in items:
        fig.margin = (y0-row_origin, 0, 0, x0-cursor)
        cursor = x0+w
        bottom = max(bottom, y0+h)
        figs.append(fig)
    children.append(row(*figs, spacing=0))
    row_origin = bottom
page = column(*children, spacing=0)

# The source plots use interpolated shading. Bokeh rasterises an image with hard cell edges, so let the browser
# re-draw each opaque heat-map raster from its cell colours with smoothing on (the value arrays are untouched).
smooth = CustomJS(args=dict(nx=len(total_e12[0]), ny=len(total_e12)), code="""
function smoothOne(el){
  if (el.dataset.smoothed) return;
  el.dataset.smoothed = '1';
  const src = el.getAttribute('href');
  const im = new Image();
  im.onload = () => {
    const W = im.naturalWidth, H = im.naturalHeight;
    const c = document.createElement('canvas'); c.width = W; c.height = H;
    const g = c.getContext('2d', {willReadFrequently: true}); g.drawImage(im, 0, 0);
    if (g.getImageData(0, 0, 1, 1).data[3] < 255) return;      // schematic spheres stay as they are
    const small = document.createElement('canvas'); small.width = nx; small.height = ny;
    const s = small.getContext('2d'); const out = s.createImageData(nx, ny);
    const all = g.getImageData(0, 0, W, H).data;
    for (let j = 0; j < ny; j++) for (let i = 0; i < nx; i++) {
      const px = Math.min(W-1, Math.floor((i+0.5)*W/nx)), py = Math.min(H-1, Math.floor((j+0.5)*H/ny));
      for (let k = 0; k < 4; k++) out.data[4*(j*nx+i)+k] = all[4*(py*W+px)+k];
    }
    s.putImageData(out, 0, 0);
    g.imageSmoothingEnabled = true; g.imageSmoothingQuality = 'high';
    g.clearRect(0, 0, W, H); g.drawImage(small, 0, 0, W, H);
    el.setAttribute('href', c.toDataURL());
  };
  im.src = src;
}
function walk(root){
  root.querySelectorAll('*').forEach(el => {
    if (el.shadowRoot) walk(el.shadowRoot);
    if (el.tagName.toLowerCase() === 'image') smoothOne(el);
  });
}
walk(document);
[50, 200, 500, 1000, 2000].forEach(t => setTimeout(() => walk(document), t));
""")
doc = Document()
doc.add_root(page)
doc.js_on_event("document_ready", smooth)

open("out.html", "w").write(file_html(doc, INLINE))
